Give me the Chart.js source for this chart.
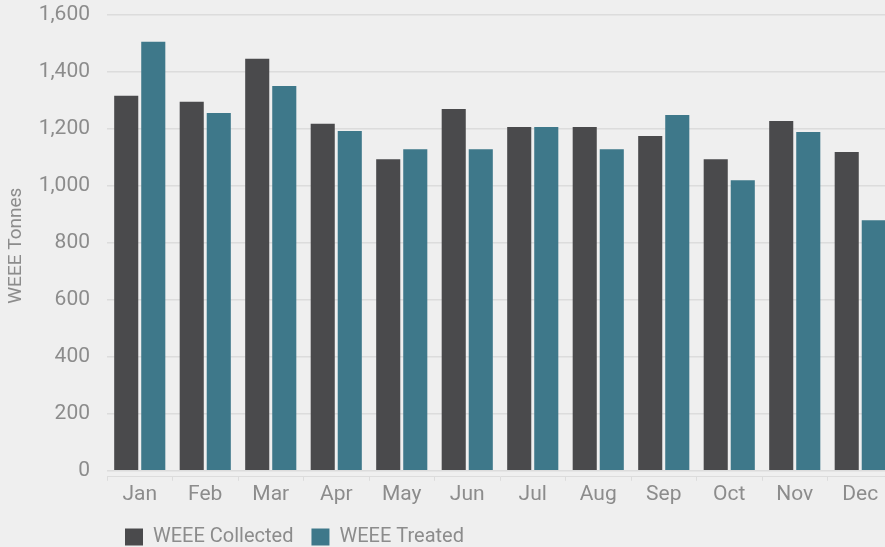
<!DOCTYPE html>
<html>
<head>
<meta charset="utf-8">
<script src="https://cdn.jsdelivr.net/npm/chart.js@4/dist/chart.umd.min.js"></script>
<style>
  html, body { margin: 0; padding: 0; background: #efefef; overflow: hidden; }
  #wrap { position: relative; width: 893px; height: 547px; }
</style>
</head>
<body>
<div id="wrap"><canvas id="weee"></canvas></div>
<script>
var months = ['Jan', 'Feb', 'Mar', 'Apr', 'May', 'Jun', 'Jul', 'Aug', 'Sep', 'Oct', 'Nov', 'Dec'];
var collected = [1315, 1294, 1445, 1217, 1093, 1269, 1206, 1206, 1174, 1093, 1227, 1118];
var treated = [1505, 1255, 1350, 1192, 1128, 1128, 1206, 1128, 1248, 1019, 1188, 879];
var yTicks = [0, 200, 400, 600, 800, 1000, 1200, 1400, 1600];

var textGrey = '#8c8c8c';
var fontFam = "Roboto, 'Noto Sans', sans-serif";

var ctx = document.getElementById('weee');
var chart = new Chart(ctx, {
  type: 'bar',
  data: {
    labels: months,
    datasets: [{
      label: 'WEEE Collected',
      data: collected,
      backgroundColor: '#4a4a4c',
      categoryPercentage: 0.826,
      barPercentage: 0.89
    }, {
      label: 'WEEE Treated',
      data: treated,
      backgroundColor: '#3e788a',
      categoryPercentage: 0.826,
      barPercentage: 0.89
    }]
  },
  options: {
    responsive: true,
    maintainAspectRatio: false,
    animation: false,
    layout: {
      padding: { top: 0, left: 0, right: 0, bottom: -10 }
    },
    plugins: {
      tooltip: { enabled: false },
      legend: {
        position: 'bottom',
        align: 'start',
        fullSize: false,
        labels: {
          boxWidth: 18,
          boxHeight: 17,
          padding: 18,
          color: textGrey,
          font: { family: fontFam, size: 20 }
        }
      }
    },
    scales: {
      x: {
        afterFit: function (axis) {
          axis.height += 1;
        },
        grid: {
          display: true,
          drawOnChartArea: false,
          color: '#dcdcdc',
          tickLength: 4,
          offset: true
        },
        border: { display: true, color: '#dcdcdc' },
        ticks: {
          color: textGrey,
          padding: 1,
          font: { family: fontFam, size: 21 }
        }
      },
      y: {
        min: -21,
        max: 1600,
        afterBuildTicks: function (axis) {
          axis.ticks = yTicks.map(function (v) { return { value: v }; });
        },
        afterFit: function (axis) {
          axis.width = 107;
        },
        grid: {
          color: '#dcdcdc',
          lineWidth: 1.5,
          drawTicks: true,
          tickLength: 15,
          tickColor: 'rgba(0,0,0,0)'
        },
        border: { display: false },
        ticks: {
          color: textGrey,
          padding: 2,
          font: { family: fontFam, size: 21 },
          callback: function (v) { return v.toLocaleString('en-US'); }
        },
        title: {
          display: true,
          text: 'WEEE Tonnes',
          color: textGrey,
          padding: { top: 5, bottom: 10 },
          font: { family: fontFam, size: 19 }
        }
      }
    }
  }
});
</script>
</body>
</html>
